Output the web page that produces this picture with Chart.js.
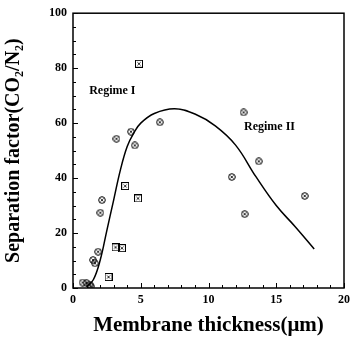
<!DOCTYPE html>
<html>
<head>
<meta charset="utf-8">
<script src="https://cdn.jsdelivr.net/npm/chart.js@4.4.1/dist/chart.umd.min.js"></script>
<style>
  html, body { margin: 0; padding: 0; background: #fff; }
  #wrap { width: 355px; height: 350px; }
</style>
</head>
<body>
<div id="wrap"><canvas id="chart"></canvas></div>
<script>
// measured points (thickness um, separation factor)
const circleX = [0.71, 1.0, 1.24, 1.3, 1.48, 1.62, 1.85, 2.02, 2.14, 3.21, 4.28, 4.56, 6.41, 11.72, 12.59, 12.67, 13.71, 17.1];
const circleY = [2.0, 1.8, 1.2, 0.6, 10.2, 9.0, 13.2, 27.4, 32.0, 54.3, 56.9, 51.9, 60.3, 40.4, 63.9, 26.9, 46.1, 33.5];
const squareX = [2.62, 3.14, 3.61, 3.85, 4.80, 4.87];
const squareY = [4.0, 14.8, 14.5, 37.1, 32.6, 81.6];

// fitted curve
const curveX = [1.0, 1.5, 2.0, 2.5, 3.0, 3.5, 4.0, 4.5, 5.0, 6.0, 7.5, 9.0, 10.5, 12.0, 13.5, 15.0, 16.4, 17.8];
const curveY = [0.5, 3, 10, 21, 32, 43, 51.5, 56.5, 60, 63.5, 65.2, 63.3, 59, 52, 40.5, 30, 22.3, 14.2];

const labels = [
  { text: 'Regime I', x: 2.9, y: 71.8 },
  { text: 'Regime II', x: 14.5, y: 58.7 }
];

const serif = '"Liberation Serif", "Times New Roman", serif';

function makeMarker(square) {
  const c = document.createElement('canvas');
  c.width = 8; c.height = 8;
  const g = c.getContext('2d');
  g.strokeStyle = '#000';
  g.lineWidth = 1;
  if (square) {
    g.strokeRect(0.5, 0.5, 7, 7);
  } else {
    g.beginPath(); g.arc(4, 4, 3.3, 0, Math.PI * 2); g.stroke();
  }
  g.lineWidth = 0.8;
  g.beginPath();
  g.moveTo(2.4, 2.4); g.lineTo(5.6, 5.6);
  g.moveTo(5.6, 2.4); g.lineTo(2.4, 5.6);
  g.stroke();
  return c;
}

const toPts = (xs, ys) => xs.map((x, i) => ({ x: x, y: ys[i] }));

// frame, inward ticks and regime labels
const decorPlugin = {
  id: 'decor',
  afterDraw(chart) {
    const ctx = chart.ctx;
    const a = chart.chartArea;
    const xs = chart.scales.x, ys = chart.scales.y;
    ctx.save();
    ctx.strokeStyle = '#000';
    ctx.lineWidth = 1.5;
    ctx.strokeRect(a.left, a.top, a.right - a.left, a.bottom - a.top);
    ctx.lineWidth = 1;
    ctx.beginPath();
    xs.ticks.forEach(t => {
      const px = Math.round(xs.getPixelForValue(t.value)) + 0.5;
      const len = t.value % 5 === 0 ? 5 : 3;
      ctx.moveTo(px, a.bottom); ctx.lineTo(px, a.bottom - len);
    });
    ys.ticks.forEach(t => {
      const py = Math.round(ys.getPixelForValue(t.value)) + 0.5;
      const len = t.value % 20 === 0 ? 5 : 3;
      ctx.moveTo(a.left, py); ctx.lineTo(a.left + len, py);
    });
    ctx.stroke();
    ctx.fillStyle = '#000';
    ctx.font = 'bold 12px ' + serif;
    ctx.textAlign = 'center';
    ctx.textBaseline = 'middle';
    labels.forEach(l => {
      ctx.fillText(l.text, xs.getPixelForValue(l.x), ys.getPixelForValue(l.y));
    });
    ctx.restore();
  }
};

new Chart(document.getElementById('chart'), {
  type: 'scatter',
  data: {
    datasets: [
      {
        type: 'line',
        data: toPts(curveX, curveY),
        borderColor: '#000',
        borderWidth: 1.5,
        pointRadius: 0,
        fill: false,
        tension: 0.4
      },
      {
        data: toPts(circleX, circleY),
        pointStyle: makeMarker(false),
        pointRadius: 4
      },
      {
        data: toPts(squareX, squareY),
        pointStyle: makeMarker(true),
        pointRadius: 4
      }
    ]
  },
  options: {
    responsive: true,
    maintainAspectRatio: false,
    animation: false,
    layout: { padding: { top: 12, right: 2, left: 0, bottom: 0 } },
    plugins: { legend: { display: false }, tooltip: { enabled: false } },
    scales: {
      x: {
        type: 'linear',
        min: 0, max: 20,
        afterFit(scale) { scale.height = 62; },
        grid: { display: false, drawTicks: false },
        border: { display: false },
        ticks: {
          stepSize: 1,
          autoSkip: false,
          maxRotation: 0,
          padding: 5,
          color: '#000',
          font: { family: serif, size: 12, weight: 'bold' },
          callback: v => (v % 5 === 0 ? String(v) : '')
        },
        title: {
          display: true,
          text: 'Membrane thickness(\u03bcm)',
          color: '#000',
          font: { family: serif, size: 21, weight: 'bold' },
          padding: { top: 4, bottom: 12 }
        }
      },
      y: {
        type: 'linear',
        min: 0, max: 100,
        afterFit(scale) { scale.width = 73; },
        grid: { display: false, drawTicks: false },
        border: { display: false },
        ticks: {
          stepSize: 5,
          autoSkip: false,
          padding: 6,
          color: '#000',
          font: { family: serif, size: 12, weight: 'bold' },
          callback: v => (v % 20 === 0 ? String(v) : '')
        },
        title: {
          display: true,
          text: 'Separation factor(CO\u2082/N\u2082)',
          color: '#000',
          font: { family: serif, size: 20, weight: 'bold' },
          padding: { top: 2, bottom: 4 }
        }
      }
    }
  },
  plugins: [decorPlugin]
});
</script>
</body>
</html>
